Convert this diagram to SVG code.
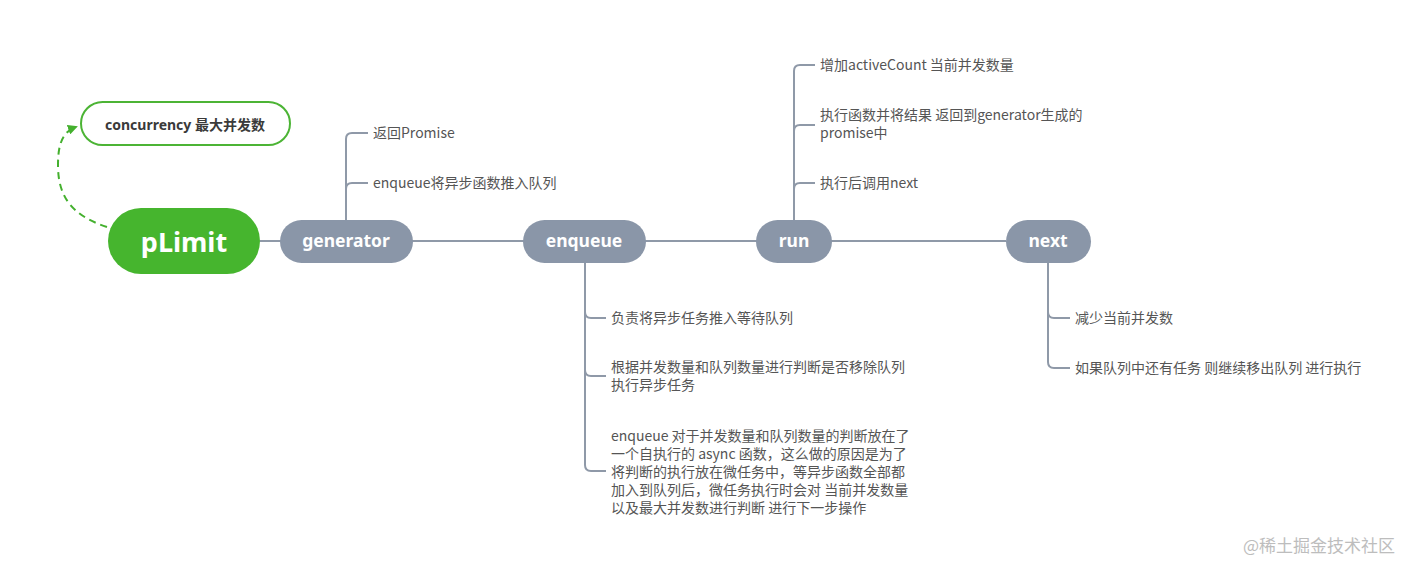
<svg xmlns="http://www.w3.org/2000/svg" width="1420" height="573" viewBox="0 0 1420 573">
<defs>
<style>
.node{fill:#8a96a8}
.nt{font-family:"Noto Sans","Noto Sans CJK SC",sans-serif;font-weight:bold;fill:#fff;text-anchor:middle;dominant-baseline:central}
.lbl{font-family:"Noto Sans CJK SC","Noto Sans",sans-serif;font-size:14px;fill:#555}
.ln{fill:none;stroke:#8f99a8;stroke-width:2}
</style>
<marker id="ah" viewBox="0 0 10 10" refX="8" refY="5" markerWidth="10" markerHeight="10" markerUnits="userSpaceOnUse" orient="auto">
<path d="M0,0 L10,5 L0,10 z" fill="#44b02e"/>
</marker>
</defs>
<rect width="1420" height="573" fill="#fff"/>
<g id="connectors">
<path class="ln" d="M260,241 H1006"/>
<path class="ln" d="M346,220 V139 Q346,133 352,133 H368 M346,189 Q346,183 352,183 H368"/>
<path class="ln" d="M794,220 V71 Q794,65 800,65 H815 M794,131 Q794,125 800,125 H815 M794,189 Q794,183 800,183 H815"/>
<path class="ln" d="M585,263 V465 Q585,471 591,471 H606 M585,312 Q585,318 591,318 H606 M585,370 Q585,376 591,376 H606"/>
<path class="ln" d="M1048,263 V362 Q1048,368 1054,368 H1070 M1048,312 Q1048,318 1054,318 H1070"/>
<path d="M107,227 C70,215 58,195 58,165 C58,145 62,132 76,127" fill="none" stroke="#44b02e" stroke-width="2" stroke-dasharray="7,5" marker-end="url(#ah)"/>
</g>
<g id="pLimit">
<rect x="108" y="208" width="152" height="66" rx="33" fill="#46b52e"/>
<text class="nt" x="184" y="241" font-size="27">pLimit</text>
</g>
<g id="concurrency">
<rect x="81" y="102" width="209" height="43" rx="21.5" fill="#fff" stroke="#4cb435" stroke-width="2"/>
<text x="185" y="124" font-family="'Noto Sans','Noto Sans CJK SC',sans-serif" font-weight="bold" font-size="14" fill="#3a3a3a" text-anchor="middle" dominant-baseline="central">concurrency 最大并发数</text>
</g>
<g id="generator">
<rect class="node" x="280" y="220" width="133" height="43" rx="21.5"/>
<text class="nt" x="346" y="240" font-size="17.5">generator</text>
</g>
<g id="enqueue">
<rect class="node" x="523" y="220" width="123" height="43" rx="21.5"/>
<text class="nt" x="584" y="240" font-size="17.5">enqueue</text>
</g>
<g id="run">
<rect class="node" x="756" y="220" width="76" height="43" rx="21.5"/>
<text class="nt" x="794" y="240" font-size="17.5">run</text>
</g>
<g id="next">
<rect class="node" x="1006" y="220" width="85" height="43" rx="21.5"/>
<text class="nt" x="1048" y="240" font-size="17.5">next</text>
</g>
<g id="generator-labels">
<text class="lbl" x="373" y="138">返回Promise</text>
<text class="lbl" x="373" y="188">enqueue将异步函数推入队列</text>
</g>
<g id="run-labels">
<text class="lbl" x="820" y="70">增加activeCount 当前并发数量</text>
<text class="lbl" x="820" y="120">执行函数并将结果 返回到generator生成的</text>
<text class="lbl" x="820" y="138">promise中</text>
<text class="lbl" x="820" y="188">执行后调用next</text>
</g>
<g id="enqueue-labels">
<text class="lbl" x="611" y="323">负责将异步任务推入等待队列</text>
<text class="lbl" x="611" y="372">根据并发数量和队列数量进行判断是否移除队列</text>
<text class="lbl" x="611" y="390">执行异步任务</text>
<text class="lbl" x="611" y="441">enqueue 对于并发数量和队列数量的判断放在了</text>
<text class="lbl" x="611" y="459">一个自执行的 async 函数，这么做的原因是为了</text>
<text class="lbl" x="611" y="477">将判断的执行放在微任务中，等异步函数全部都</text>
<text class="lbl" x="611" y="495">加入到队列后，微任务执行时会对 当前并发数量</text>
<text class="lbl" x="611" y="513">以及最大并发数进行判断 进行下一步操作</text>
</g>
<g id="next-labels">
<text class="lbl" x="1075" y="323">减少当前并发数</text>
<text class="lbl" x="1075" y="373">如果队列中还有任务 则继续移出队列 进行执行</text>
</g>
<text x="1243" y="552" font-family="'Noto Sans CJK SC',sans-serif" font-size="17" fill="#bdbdbd">@稀土掘金技术社区</text>
</svg>
